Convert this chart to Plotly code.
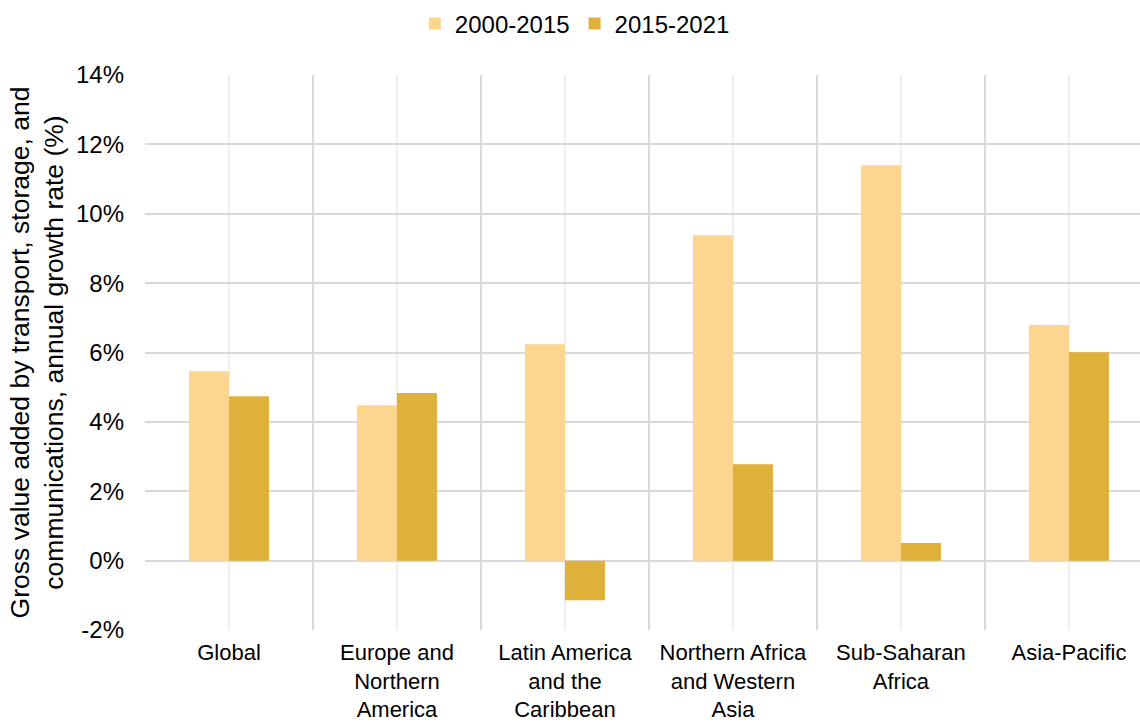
import plotly.graph_objects as go

regions = [
    "Global",
    "Europe and<br>Northern<br>America",
    "Latin America<br>and the<br>Caribbean",
    "Northern Africa<br>and Western<br>Asia",
    "Sub-Saharan<br>Africa",
    "Asia-Pacific",
]
growth_2000_2015 = [5.46, 4.48, 6.24, 9.38, 11.40, 6.79]
growth_2015_2021 = [4.74, 4.83, -1.14, 2.78, 0.51, 6.01]
y_ticks = [-2, 0, 2, 4, 6, 8, 10, 12, 14]

positions = list(range(len(regions)))
font_family = "Liberation Sans, Arial, sans-serif"

fig = go.Figure()
fig.add_trace(go.Bar(
    name="2000-2015", x=positions, y=growth_2000_2015,
    marker=dict(color="#FCD68F", line=dict(width=0)),
))
fig.add_trace(go.Bar(
    name="2015-2021", x=positions, y=growth_2015_2021,
    marker=dict(color="#E0B13A", line=dict(width=0)),
))

fig.update_layout(
    width=1140, height=723,
    margin=dict(l=145, r=0, t=75, b=93),
    paper_bgcolor="white", plot_bgcolor="white",
    barmode="group", bargap=0.524, bargroupgap=0,
    font=dict(family=font_family, size=24, color="#000000"),
    legend=dict(
        orientation="h", x=0.432, xanchor="center", y=0.998, yanchor="top",
        yref="container", font=dict(size=24), itemwidth=30,
        traceorder="normal",
    ),
    showlegend=True,
)

fig.update_xaxes(
    range=[-0.5, 5.423],
    tickmode="array", tickvals=positions, ticktext=regions,
    showgrid=True, gridcolor="#EFEFEF", gridwidth=2,
    minor=dict(tickmode="linear", tick0=-0.5, dtick=1, showgrid=True,
               gridcolor="#D9D9D9", gridwidth=2),
    zeroline=False, showline=False, ticks="",
    ticklabelstandoff=7, automargin=False,
    tickfont=dict(size=22),
)
fig.update_yaxes(
    range=[-2, 14],
    tickmode="array", tickvals=y_ticks,
    ticktext=[f"{v}%" for v in y_ticks],
    showgrid=True, gridcolor="#D9D9D9", gridwidth=2,
    zeroline=False, showline=False, ticks="",
    ticklabelstandoff=20, automargin=False,
    tickfont=dict(size=24),
    title=dict(
        text="Gross value added by transport, storage, and<br>communications, annual growth rate (%)",
        font=dict(size=26.5), standoff=4,
    ),
)

fig.write_html("out.html")
